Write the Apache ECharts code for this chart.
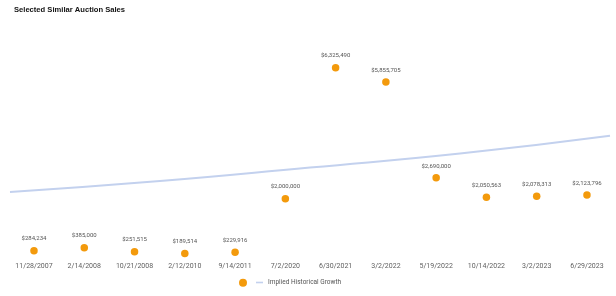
<!DOCTYPE html>
<html><head><meta charset="utf-8">
<script src="https://cdn.jsdelivr.net/npm/echarts@6/dist/echarts.min.js"></script>
<style>html,body{margin:0;padding:0;background:#fff}#c{width:616px;height:296px}</style>
</head><body><div id="c"></div>
<script>
var categories = ['11/28/2007','2/14/2008','10/21/2008','2/12/2010','9/14/2011','7/2/2020','6/30/2021','3/2/2022','5/19/2022','10/14/2022','3/2/2023','6/29/2023'];
var saleValues = [284234, 385000, 251515, 189514, 229916, 2000000, 6325490, 5855705, 2690000, 2050563, 2078313, 2123796];
var growthX = [0, 0.25, 0.5, 0.75, 1];
var growthValues = [2222000, 2585000, 3031000, 3493000, 4081000];
var titleText = 'Selected Similar Auction Sales';
var growthName = 'Implied Historical Growth';

var chart = echarts.init(document.getElementById('c'), null, {renderer:'canvas'});
chart.setOption({
  animation: false,
  backgroundColor: '#fff',
  title: {text: titleText, left: 14, top: 6, padding: 0,
    textStyle: {fontFamily: 'Liberation Sans', fontWeight: 'bold', fontSize: 7.6, color: '#111'}},
  grid: {left: 8.86, right: 3.9, top: 47.3, bottom: 36.7, containLabel: false},
  legend: [{
    left: 239, top: 278.7, padding: 0, itemWidth: 8, itemHeight: 8, itemGap: 0,
    textStyle: {fontSize: 1, color: 'rgba(0,0,0,0)'},
    data: [{name: ' ', icon: 'circle'}]
  }, {
    left: 256, top: 279, padding: 0, itemWidth: 7, itemHeight: 1.6,
    textStyle: {fontFamily: 'Roboto', fontSize: 6.5, color: '#555'},
    data: [{name: growthName, icon: 'rect', itemStyle: {color: '#c3d1ee'}}]
  }],
  xAxis: [{
    type: 'category', data: categories, boundaryGap: true,
    axisLine: {show: false}, axisTick: {show: false},
    axisLabel: {margin: 3, fontFamily: 'Roboto', fontSize: 7, color: '#606060', interval: 0}
  }, {
    type: 'value', show: false, min: -0.0019, max: 1.0035
  }],
  yAxis: {type: 'value', min: 0, max: 7000000, show: false, splitLine: {show: false}},
  series: [{
    name: growthName, type: 'line', xAxisIndex: 1, smooth: true, symbol: 'none',
    lineStyle: {color: '#c3d1ee', width: 2}, itemStyle: {color: '#c3d1ee'},
    data: growthX.map(function(x, i){ return [x, growthValues[i]]; }),
    z: 1
  }, {
    name: ' ', type: 'scatter', symbolSize: 7.5,
    itemStyle: {color: '#f39a0c', opacity: 1},
    label: {show: true, position: 'top', distance: 5, fontFamily: 'Roboto', fontSize: 6, color: '#555',
      formatter: function(p){ return '$' + p.value.toLocaleString('en-US'); }},
    data: saleValues, z: 3
  }]
});
</script></body></html>
